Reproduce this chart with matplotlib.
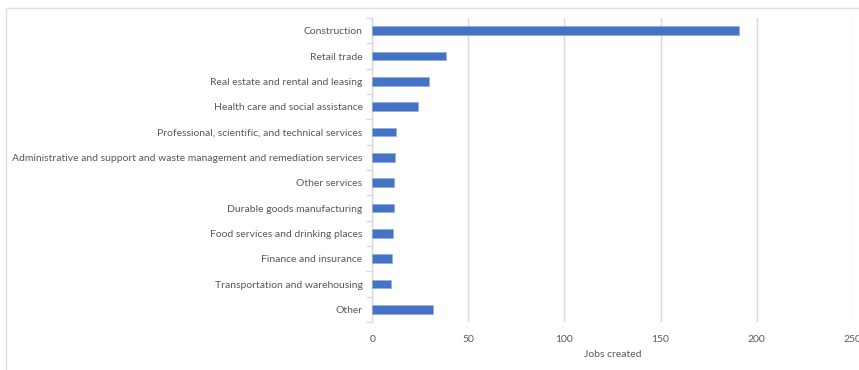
import numpy as np
import matplotlib
matplotlib.use('Agg')
import matplotlib.pyplot as plt
from matplotlib.patches import Rectangle

industries = [
    'Construction',
    'Retail trade',
    'Real estate and rental and leasing',
    'Health care and social assistance',
    'Professional, scientific, and technical services',
    'Administrative and support and waste management and remediation services',
    'Other services',
    'Durable goods manufacturing',
    'Food services and drinking places',
    'Finance and insurance',
    'Transportation and warehousing',
    'Other',
]
jobs_created = [191, 38.4, 29.7, 23.6, 12.5, 12.0, 11.3, 11.1, 10.8, 10.4, 9.9, 31.8]
x_ticks = [0, 50, 100, 150, 200, 250]

TEXT = '#595959'
GRID = '#D9D9D9'
BAR = '#4472C4'

plt.rcParams['font.family'] = ['Lato', 'DejaVu Sans']

fig = plt.figure(figsize=(8.59, 3.70), dpi=100)
ax = fig.add_axes([372.3 / 859, 1 - 322 / 370, (852.7 - 372.3) / 859, (322 - 18) / 370])

# light chart-area border
fig.patches.append(Rectangle((6 / 859, -0.1), 1.2, 1 - 8 / 370 + 0.1, transform=fig.transFigure,
                             fill=False, edgecolor='#E0E0E0', linewidth=1.0))

y = np.arange(len(industries))
ax.barh(y, jobs_created, height=0.35, color=BAR, edgecolor='#8FAADC', linewidth=0.4, zorder=3)

ax.set_xlim(0, 250)
ax.set_ylim(len(industries) - 0.5, -0.5)
ax.set_xticks(x_ticks)
ax.set_yticks(y)
ax.set_yticklabels(industries)
ax.set_yticks(np.arange(len(industries) + 1) - 0.5, minor=True)

ax.xaxis.grid(True, color=GRID, linewidth=1.0, zorder=0)
for side in ['top', 'right', 'bottom']:
    ax.spines[side].set_visible(False)
ax.spines['left'].set_color(GRID)
ax.spines['left'].set_linewidth(1.0)

ax.tick_params(axis='x', length=0, pad=9, labelsize=7.5, labelcolor=TEXT)
ax.tick_params(axis='y', which='major', length=0, pad=7, labelsize=7.5, labelcolor=TEXT)
ax.tick_params(axis='y', which='minor', length=4, color=GRID, width=1.0)

ax.set_xlabel('Jobs created', fontsize=7.5, color=TEXT, labelpad=5)

fig.savefig('out.png', dpi=100)
